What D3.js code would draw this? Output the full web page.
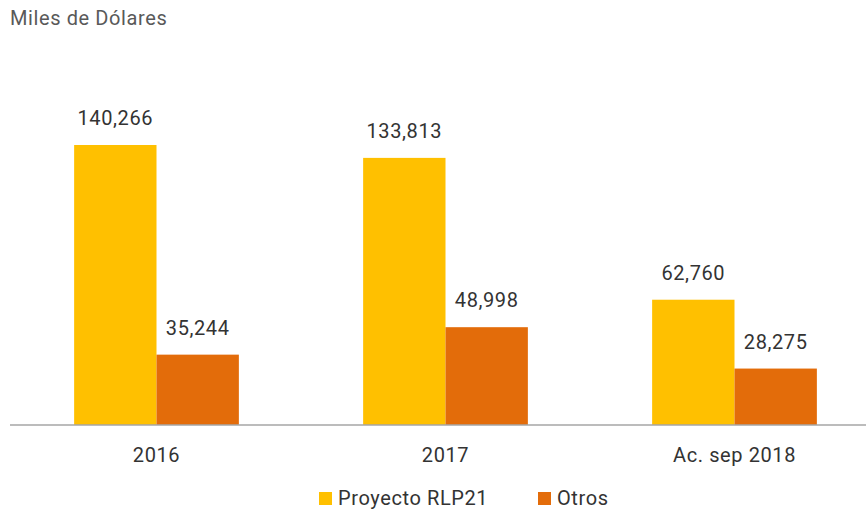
<!DOCTYPE html>
<html>
<head>
<meta charset="utf-8">
<script src="https://cdn.jsdelivr.net/npm/d3@7"></script>
<style>
  body { margin: 0; background: #fff; }
  text { font-family: Roboto, "Liberation Sans", sans-serif; letter-spacing: 0.6px; }
</style>
</head>
<body>
<div id="container"></div>
<script>
const categories = ['2016', '2017', 'Ac. sep 2018']
const seriesNames = ['Proyecto RLP21', 'Otros']
const proyecto = [140266, 133813, 62760]
const otros = [35244, 48998, 28275]
const colors = ['#FFC000', '#E36C0A']

const w = 866
const h = 512
const baseline = 425

const svg = d3.select('#container')
  .append('svg')
  .attr('width', w)
  .attr('height', h)

const x0 = d3.scaleBand()
  .domain(categories)
  .range([12, 879])
  .paddingInner(0.43)
  .paddingOuter(0.215)

const x1 = d3.scaleBand()
  .domain(seriesNames)
  .range([0, x0.bandwidth()])

const y = d3.scaleLinear()
  .domain([0, 140266])
  .range([baseline, 145])

// title
svg.append('text')
  .attr('x', 10)
  .attr('y', 25)
  .attr('fill', '#595959')
  .style('font-size', '20px')
  .text('Miles de Dólares')

const data = categories.map((c, i) => ({ cat: c, vals: [proyecto[i], otros[i]] }))

const groups = svg.selectAll('g.group')
  .data(data)
  .enter()
  .append('g')
  .attr('class', 'group')
  .attr('transform', d => 'translate(' + x0(d.cat) + ',0)')

groups.selectAll('rect')
  .data(d => d.vals.map((v, j) => ({ s: seriesNames[j], v: v, j: j })))
  .enter()
  .append('rect')
  .attr('x', d => x1(d.s))
  .attr('y', d => y(d.v))
  .attr('width', x1.bandwidth())
  .attr('height', d => baseline - y(d.v))
  .attr('fill', d => colors[d.j])

groups.selectAll('text.val')
  .data(d => d.vals.map((v, j) => ({ s: seriesNames[j], v: v })))
  .enter()
  .append('text')
  .attr('class', 'val')
  .attr('x', d => x1(d.s) + x1.bandwidth() / 2)
  .attr('y', d => y(d.v) - 20)
  .attr('text-anchor', 'middle')
  .attr('fill', '#333')
  .style('font-size', '20px')
  .text(d => d3.format(',')(d.v))

// axis
const xAxis = d3.axisBottom(x0).tickSize(0)
const axisG = svg.append('g')
  .attr('transform', 'translate(0,' + baseline + ')')
  .call(xAxis)
axisG.select('.domain').remove()
axisG.append('line')
  .attr('x1', 10).attr('x2', w)
  .attr('y1', 0).attr('y2', 0)
  .attr('stroke', '#a6a6a6')
  .attr('stroke-width', 1.5)
axisG.selectAll('.tick text')
  .attr('y', 37)
  .attr('dy', null)
  .attr('fill', '#333')
  .style('font-size', '20px')
  .style('font-family', 'Roboto, sans-serif')

// legend
const legendX = [319, 538]
const legend = svg.selectAll('g.legend')
  .data(seriesNames)
  .enter()
  .append('g')
  .attr('class', 'legend')
  .attr('transform', (d, i) => 'translate(' + legendX[i] + ',492)')
legend.append('rect')
  .attr('width', 13).attr('height', 13)
  .attr('fill', (d, i) => colors[i])
legend.append('text')
  .attr('x', 19)
  .attr('y', 13)
  .attr('fill', '#333')
  .style('font-size', '20px')
  .text(d => d)
</script>
</body>
</html>
